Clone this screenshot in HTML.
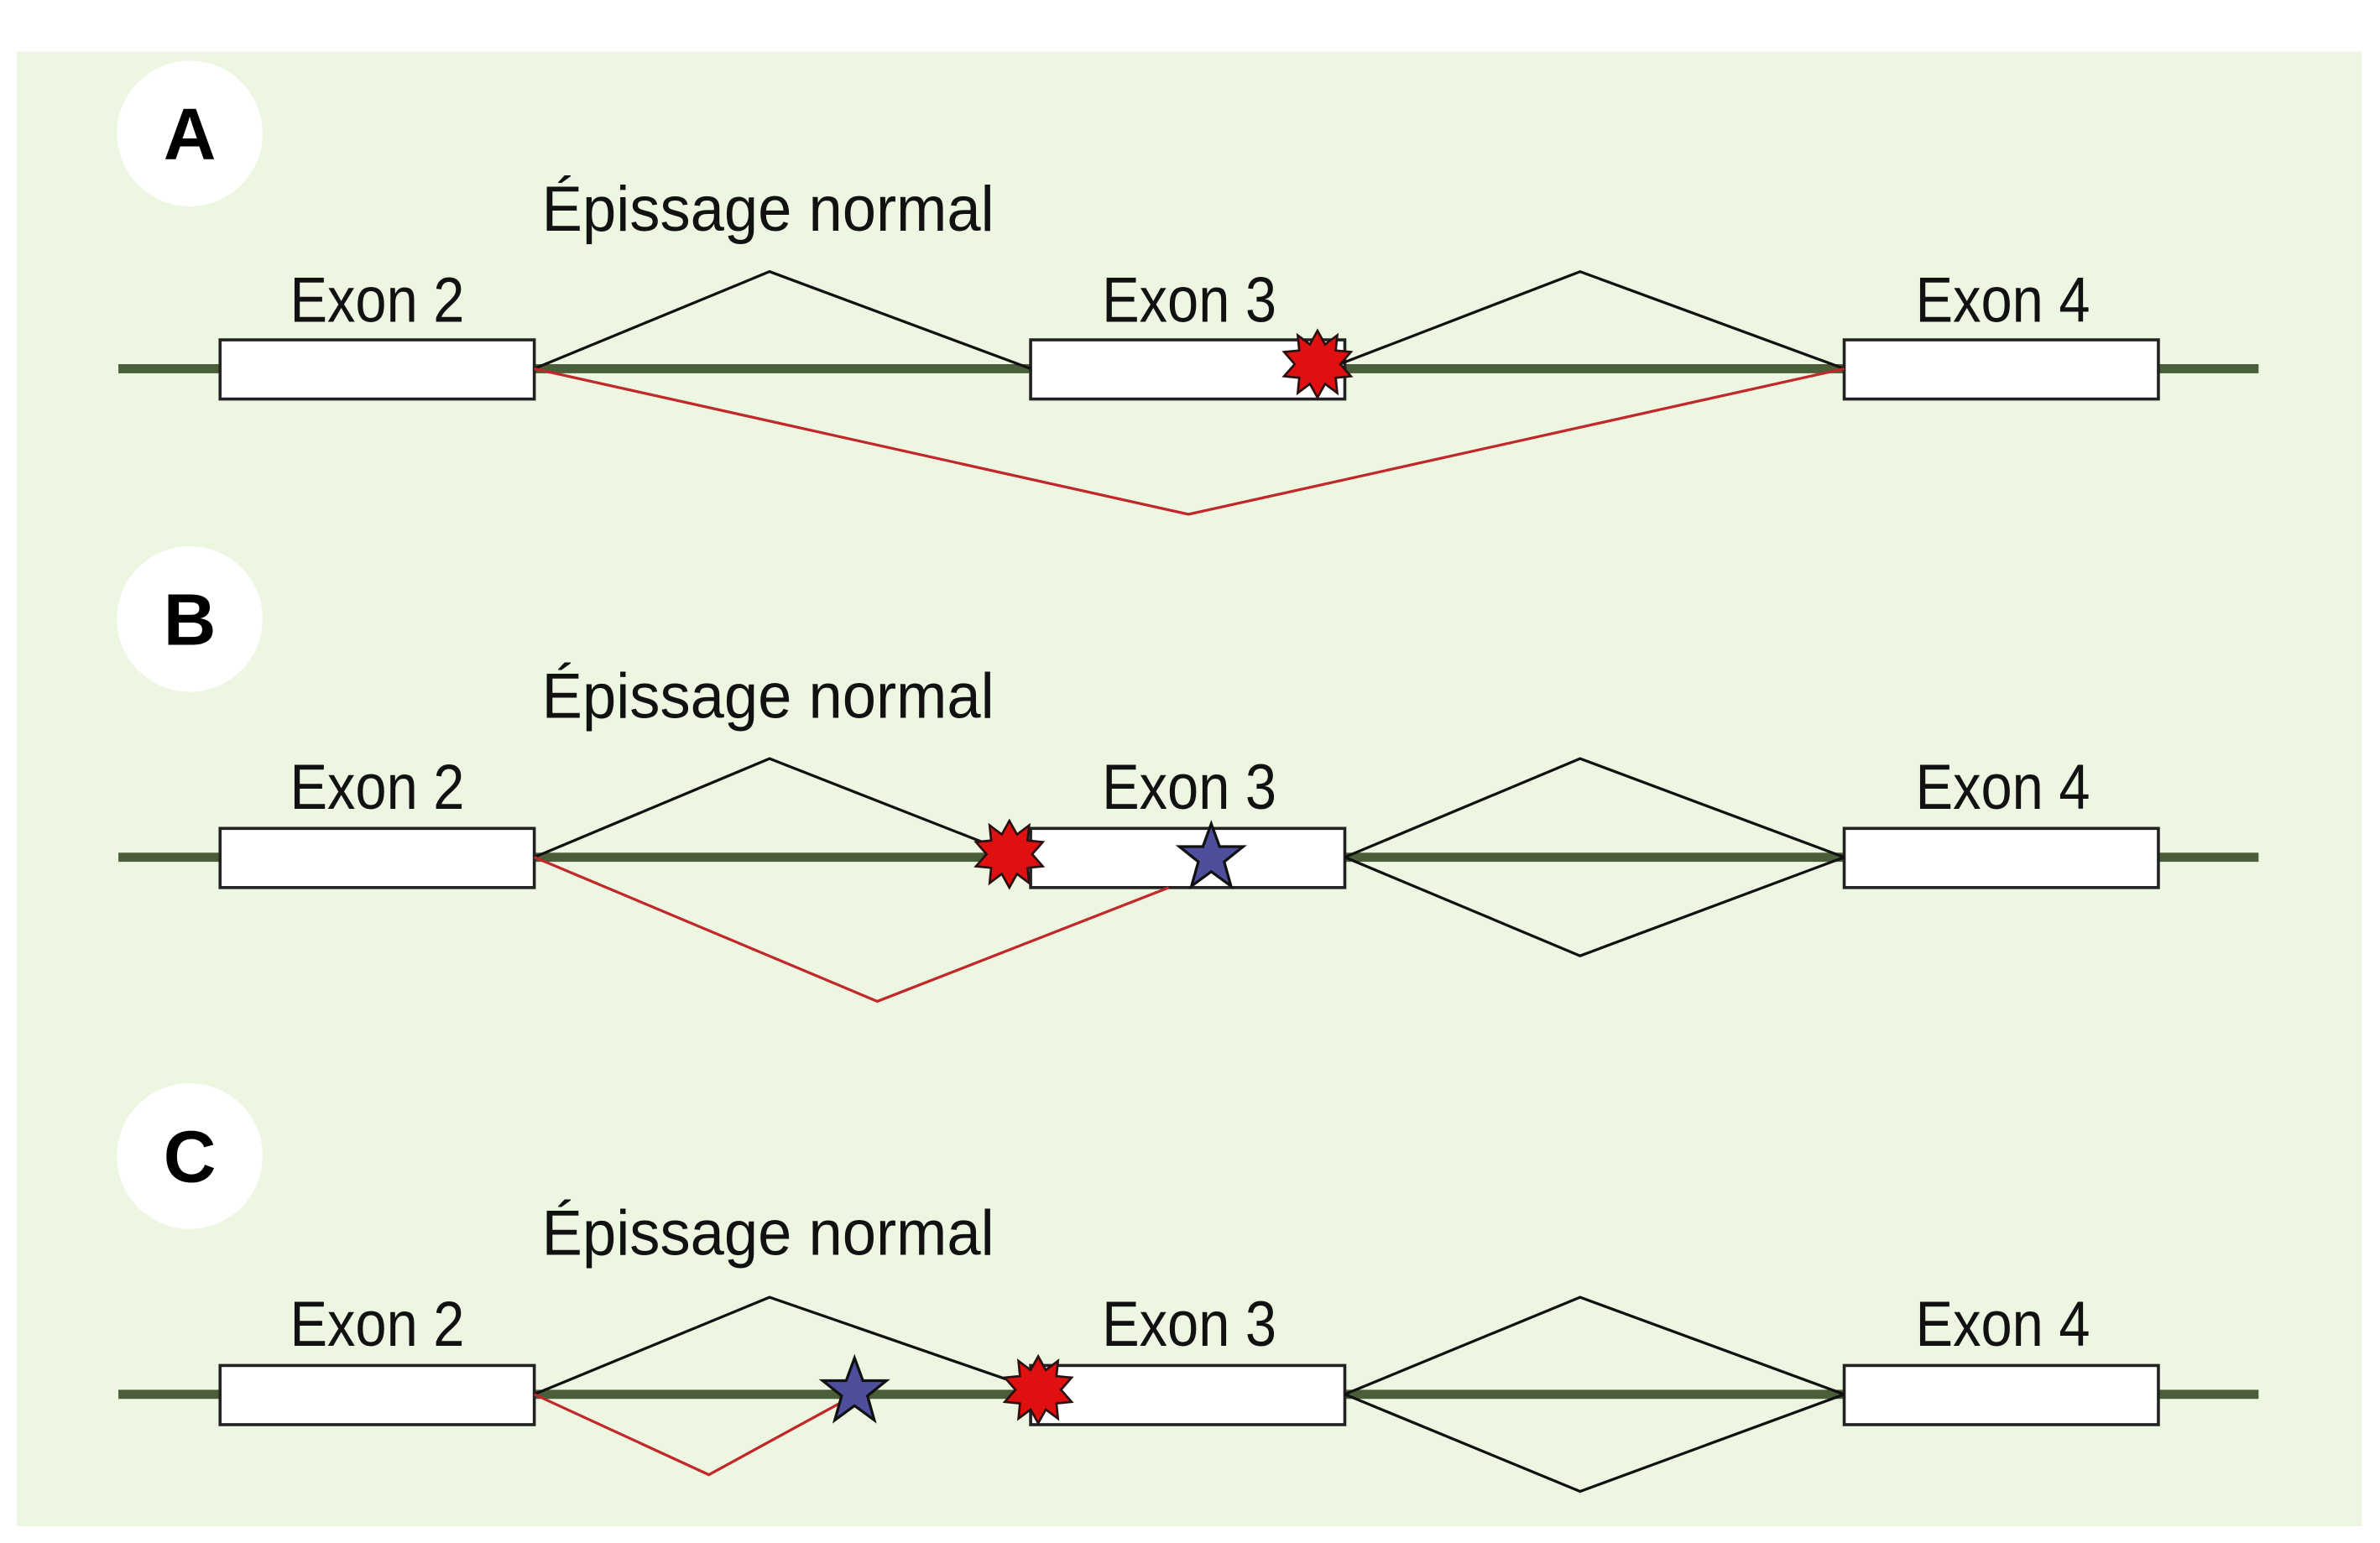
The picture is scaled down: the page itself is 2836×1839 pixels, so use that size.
<!DOCTYPE html>
<html><head><meta charset="utf-8"><style>
html,body{margin:0;padding:0;background:#fff;}
svg{display:block;}
text{font-family:"Liberation Sans",sans-serif;}
</style></head><body>
<svg width="2836" height="1839" viewBox="0 0 1568 1017" preserveAspectRatio="none" xmlns="http://www.w3.org/2000/svg">
<defs>
<polygon id="burst" points="0,-22 5,-13 13,-19 12,-9 22,-8 15,0 22,8 12,9 13,19 5,13 0,22 -5,13 -13,19 -12,9 -22,8 -15,0 -22,-8 -12,-9 -13,-19 -5,-13" fill="#e01010" stroke="#2a1010" stroke-width="1.5"/>
<polygon id="star" points="0,-22 5.5,-7 21,-7 8.5,3 13,19 0,9.5 -13,19 -8.5,3 -21,-7 -5.5,-7" fill="#4d4f9c" stroke="#111" stroke-width="1.8"/>
</defs>
<rect x="0" y="0" width="1568" height="1017" fill="#fff"/>
<rect x="11" y="34" width="1545" height="972" fill="#ecf6e1"/>
<circle cx="125" cy="88" r="48" fill="#fff"/>
<circle cx="125" cy="408" r="48" fill="#fff"/>
<circle cx="125" cy="762" r="48" fill="#fff"/>
<g font-weight="bold" font-size="48" text-anchor="middle" fill="#000">
<text x="125" y="105">A</text>
<text x="125" y="425">B</text>
<text x="125" y="779">C</text>
</g>
<g font-size="42" fill="#111">
<text x="357" y="152" textLength="298" lengthAdjust="spacingAndGlyphs">Épissage normal</text>
<text x="191" y="212" textLength="115" lengthAdjust="spacingAndGlyphs">Exon 2</text>
<text x="726" y="212" textLength="115" lengthAdjust="spacingAndGlyphs">Exon 3</text>
<text x="1262" y="212" textLength="115" lengthAdjust="spacingAndGlyphs">Exon 4</text>
<text x="357" y="473" textLength="298" lengthAdjust="spacingAndGlyphs">Épissage normal</text>
<text x="191" y="533" textLength="115" lengthAdjust="spacingAndGlyphs">Exon 2</text>
<text x="726" y="533" textLength="115" lengthAdjust="spacingAndGlyphs">Exon 3</text>
<text x="1262" y="533" textLength="115" lengthAdjust="spacingAndGlyphs">Exon 4</text>
<text x="357" y="827" textLength="298" lengthAdjust="spacingAndGlyphs">Épissage normal</text>
<text x="191" y="887" textLength="115" lengthAdjust="spacingAndGlyphs">Exon 2</text>
<text x="726" y="887" textLength="115" lengthAdjust="spacingAndGlyphs">Exon 3</text>
<text x="1262" y="887" textLength="115" lengthAdjust="spacingAndGlyphs">Exon 4</text>
</g>
<g stroke="#4b5e3a" stroke-width="6">
<line x1="78" y1="243" x2="1488" y2="243"/>
<line x1="78" y1="565" x2="1488" y2="565"/>
<line x1="78" y1="919" x2="1488" y2="919"/>
</g>
<g fill="#fff" stroke="#222" stroke-width="2">
<rect x="145" y="224" width="207" height="39"/>
<rect x="679" y="224" width="207" height="39"/>
<rect x="1215" y="224" width="207" height="39"/>
<rect x="145" y="546" width="207" height="39"/>
<rect x="679" y="546" width="207" height="39"/>
<rect x="1215" y="546" width="207" height="39"/>
<rect x="145" y="900" width="207" height="39"/>
<rect x="679" y="900" width="207" height="39"/>
<rect x="1215" y="900" width="207" height="39"/>
</g>
<g fill="none" stroke="#111" stroke-width="1.8">
<polyline points="352,243 507,179 679,243"/>
<polyline points="880,241 1041,179 1215,243"/>
<polyline points="352,565 507,500 665,562"/>
<polyline points="886,565 1041,500 1215,565"/>
<polyline points="886,565 1041,630 1215,565"/>
<polyline points="352,919 507,855 683,916"/>
<polyline points="886,919 1041,855 1215,919"/>
<polyline points="886,919 1041,983 1215,919"/>
</g>
<g fill="none" stroke="#c0282a" stroke-width="1.8">
<polyline points="352,243 783,339 1215,243"/>
<polyline points="352,565 578,660 770,585"/>
<polyline points="352,919 467,972 553,925"/>
</g>
<use href="#burst" x="868" y="240"/>
<use href="#burst" x="665" y="563"/>
<use href="#star" x="798" y="565"/>
<use href="#burst" x="684" y="916"/>
<use href="#star" x="563" y="917"/>
</svg>
</body></html>
